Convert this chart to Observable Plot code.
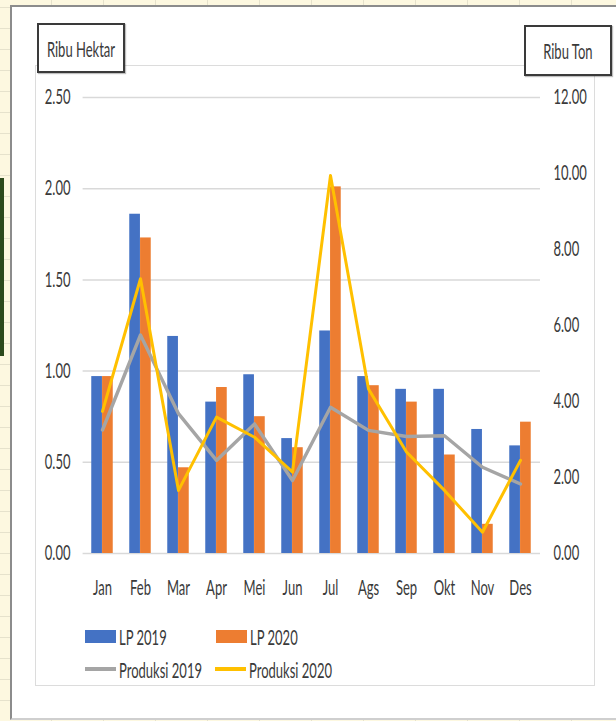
<!DOCTYPE html>
<html>
<head>
<meta charset="utf-8">
<script src="https://cdn.jsdelivr.net/npm/d3@7"></script>
<script src="https://cdn.jsdelivr.net/npm/@observablehq/plot@0.6"></script>
<style>
  html, body { margin: 0; padding: 0; }
  body {
    width: 616px; height: 721px; position: relative; overflow: hidden;
    background: #fdf8e0;
    font-family: Lato, "Open Sans", sans-serif;
  }
  .cells {
    position: absolute; left: 0; top: 0; width: 616px; height: 721px;
    background-image:
      repeating-linear-gradient(90deg, transparent 0 51px, #e6e2cc 51px 52px),
      repeating-linear-gradient(0deg, transparent 0 20px, #e6e2cc 20px 21px);
  }
  .greenbar { position: absolute; left: 0; top: 178px; width: 4px; height: 178px; background: #2c4a1c; }
  .panel {
    position: absolute; left: 10px; top: 5px; width: 606px; height: 711px;
    background: #fff;
    border-left: 2px solid #8c8c8c; border-top: 2px solid #8c8c8c; border-bottom: 2px solid #cfcfcf;
  }
  .area {
    position: absolute; left: 35px; top: 65px; width: 558px; height: 619px;
    border: 1px solid #dcdcdc; background: #fff;
  }
  #chart { position: absolute; left: 0; top: 0; }
  .unit {
    position: absolute; background: #fff; border: 2px solid #3a3a3a;
    box-sizing: border-box; display: flex; align-items: center; justify-content: center;
    box-shadow: 1px 1px 1px rgba(0,0,0,0.25);
  }
  .sq { display: inline-block; transform: scaleX(0.62); white-space: nowrap; font-size: 21px; color: #3a3a3a; }
  .unit .sq { transform-origin: center center; }
  .leg { position: absolute; display: flex; align-items: center; height: 20px; }
  .leg .sw { flex: none; margin-right: 3px; }
  .leg .sq { transform-origin: left center; }
</style>
</head>
<body>
<div class="cells"></div>
<div class="greenbar"></div>
<div class="panel"></div>
<div class="area"></div>
<div id="chart"></div>
<div class="unit" style="left:37px; top:23px; width:88px; height:50px;"><span class="sq">Ribu Hektar</span></div>
<div class="unit" style="left:524px; top:25px; width:88px; height:51px;"><span class="sq">Ribu Ton</span></div>
<div id="legend"></div>
<script>
// ---- data ----
const months = ["Jan","Feb","Mar","Apr","Mei","Jun","Jul","Ags","Sep","Okt","Nov","Des"];
const lp2019 = [0.97, 1.86, 1.19, 0.83, 0.98, 0.63, 1.22, 0.97, 0.90, 0.90, 0.68, 0.59];
const lp2020 = [0.97, 1.73, 0.47, 0.91, 0.75, 0.58, 2.01, 0.92, 0.83, 0.54, 0.16, 0.72];
const produksi2019 = [3.25, 5.75, 3.68, 2.45, 3.41, 1.92, 3.85, 3.24, 3.08, 3.10, 2.27, 1.83];
const produksi2020 = [3.74, 7.23, 1.66, 3.59, 3.06, 2.14, 9.95, 4.33, 2.67, 1.66, 0.56, 2.45];
const leftTicks = [0, 0.5, 1, 1.5, 2, 2.5];
const rightTicks = [0, 2, 4, 6, 8, 10, 12];
const seriesNames = ["LP 2019", "LP 2020", "Produksi 2019", "Produksi 2020"];

const BLUE = "#4472C4", ORANGE = "#ED7D31", GRAY = "#A5A5A5", YELLOW = "#FFC000";
const K = 2.5 / 12; // right axis (Ribu Ton) mapped onto left axis (Ribu Hektar)

const data = months.map((m, i) => ({
  month: m, lp2019: lp2019[i], lp2020: lp2020[i],
  p2019: produksi2019[i], p2020: produksi2020[i]
}));

const W = 616, H = 721;
const mL = 82.6, mR = 76, mT = 97, mB = 168;
const band = (W - mL - mR) / months.length;
const barW = 10.8;

const chart = Plot.plot({
  width: W, height: H,
  marginLeft: mL, marginRight: mR, marginTop: mT, marginBottom: mB,
  x: {type: "band", domain: months, padding: 0},
  y: {domain: [0, 2.5]},
  style: {background: "transparent", fontFamily: "Lato, 'Open Sans', sans-serif", fontSize: "21px", color: "#3a3a3a", overflow: "visible"},
  marks: [
    Plot.ruleY(leftTicks, {stroke: "#d9d9d9", strokeWidth: 1.5}),
    Plot.barY(data, {x: "month", y: "lp2019", fill: BLUE, insetLeft: band / 2 - barW, insetRight: band / 2}),
    Plot.barY(data, {x: "month", y: "lp2020", fill: ORANGE, insetLeft: band / 2, insetRight: band / 2 - barW}),
    Plot.line(data, {x: "month", y: d => d.p2019 * K, stroke: GRAY, strokeWidth: 3.4, strokeLinejoin: "round"}),
    Plot.line(data, {x: "month", y: d => d.p2020 * K, stroke: YELLOW, strokeWidth: 3, strokeLinejoin: "round"}),
    Plot.axisX({tickSize: 0, tickPadding: 27, label: null}),
    Plot.axisY(leftTicks, {anchor: "left", tickSize: 0, tickPadding: 12.6, tickFormat: d3.format(".2f"), label: null}),
    Plot.axisY(rightTicks.map(v => v * K), {anchor: "right", tickSize: 0, tickPadding: 13, tickFormat: v => d3.format(".2f")(v / K), label: null})
  ]
});

// squeeze text horizontally like the (condensed) original
const SX = 0.62;
chart.querySelectorAll("text").forEach(t => {
  const xa = t.getAttribute("x");
  if (xa !== null && isFinite(+xa)) t.setAttribute("x", +xa / SX);
  const tr = t.getAttribute("transform") || "";
  t.setAttribute("transform", `${tr} scale(${SX},1)`);
});
document.getElementById("chart").appendChild(chart);

// ---- legend ----
const legend = document.getElementById("legend");
const legItems = [
  {name: seriesNames[0], color: BLUE, kind: "rect", left: 85, top: 626},
  {name: seriesNames[1], color: ORANGE, kind: "rect", left: 216, top: 626},
  {name: seriesNames[2], color: GRAY, kind: "line", left: 85, top: 659},
  {name: seriesNames[3], color: YELLOW, kind: "line", left: 215, top: 659}
];
legItems.forEach(it => {
  const d = document.createElement("div");
  d.className = "leg";
  d.style.left = it.left + "px"; d.style.top = it.top + "px";
  const sw = document.createElement("span");
  sw.className = "sw";
  sw.style.width = "31px";
  sw.style.height = it.kind === "rect" ? "13px" : "4px";
  sw.style.background = it.color;
  const tx = document.createElement("span");
  tx.className = "sq"; tx.textContent = it.name;
  d.appendChild(sw); d.appendChild(tx);
  legend.appendChild(d);
});
</script>
</body>
</html>
